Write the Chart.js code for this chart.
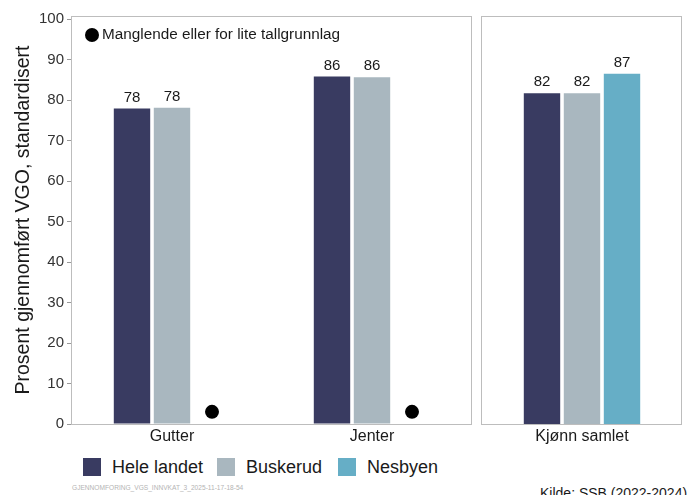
<!DOCTYPE html>
<html>
<head>
<meta charset="utf-8">
<script src="https://cdn.jsdelivr.net/npm/chart.js@4.4.1/dist/chart.umd.min.js"></script>
<style>
  body { margin: 0; background: #fff; font-family: "Liberation Sans", Arial, sans-serif; }
  #wrap { position: relative; width: 694px; height: 495px; overflow: hidden; }
  canvas { position: absolute; top: 0; }
  .leg { position: absolute; top: 456px; height: 22px; display: flex; align-items: center; font-size: 18px; color: #1a1a1a; }
  .leg span.sq { width: 18px; height: 18px; margin-right: 11px; display: inline-block; }
  #stamp { position: absolute; left: 72px; top: 484px; font-size: 6.6px; color: #b4b4b4; }
  #kilde { position: absolute; left: 540px; top: 485px; font-size: 14px; color: #1a1a1a; white-space: nowrap; }
</style>
</head>
<body>
<div id="wrap">
  <canvas id="left" width="476" height="450" style="left:0"></canvas>
  <canvas id="right" width="216" height="450" style="left:478px"></canvas>
  <div class="leg" style="left:83px"><span class="sq" style="background:#393b61"></span>Hele landet</div>
  <div class="leg" style="left:217px"><span class="sq" style="background:#a9b7bf"></span>Buskerud</div>
  <div class="leg" style="left:338px"><span class="sq" style="background:#66aec6"></span>Nesbyen</div>
  <div id="stamp">GJENNOMFORING_VGS_INNVKAT_3_2025-11-17-18-54</div>
  <div id="kilde">Kilde: SSB (2022-2024)</div>
</div>
<script>
// categories
const kjonnLabels = ["Gutter", "Jenter"];
const samletLabels = ["Kjønn samlet"];
const seriesNames = ["Hele landet", "Buskerud", "Nesbyen"];
const seriesColors = ["#393b61", "#a9b7bf", "#66aec6"];

// values per panel
const heleLandetKjonn = [77.9, 85.8];
const buskerudKjonn = [78.1, 85.6];
const nesbyenKjonn = [null, null];
const manglerKjonn = [true, true]; // missing / too few data
const heleLandetSamlet = [81.7];
const buskerudSamlet = [81.7];
const nesbyenSamlet = [86.5];

const yTicks = [0, 10, 20, 30, 40, 50, 60, 70, 80, 90, 100];
const yMax = 100.75;
const missingDotValue = 3;
const noteText = "Manglende eller for lite tallgrunnlag";

const FONT = "'Liberation Sans', Arial, sans-serif";

// panel border, value labels and missing-data dots
const panelPlugin = {
  id: "panel",
  afterDatasetsDraw(chart) {
    const c = chart.ctx, a = chart.chartArea;
    c.save();
    c.strokeStyle = "#bdbdbd";
    c.lineWidth = 1;
    c.strokeRect(Math.round(a.left) - 0.5, Math.round(a.top) + 0.5, Math.round(a.right - a.left), Math.round(a.bottom - a.top));
    c.font = "15px " + FONT;
    c.fillStyle = "#1a1a1a";
    c.textAlign = "center";
    c.textBaseline = "middle";
    chart.data.datasets.forEach((ds, di) => {
      const meta = chart.getDatasetMeta(di);
      meta.data.forEach((el, i) => {
        const v = ds.data[i];
        if (v != null) {
          c.fillText(Math.round(v), el.x, el.y - 11);
        } else if (ds.missing && ds.missing[i]) {
          const y = chart.scales.y.getPixelForValue(missingDotValue);
          c.beginPath();
          c.arc(el.x, y, 7, 0, Math.PI * 2);
          c.fillStyle = "#000";
          c.fill();
          c.fillStyle = "#1a1a1a";
        }
      });
    });
    if (chart.options.plugins.panel && chart.options.plugins.panel.note) {
      c.beginPath();
      c.arc(a.left + 20, a.top + 19, 7, 0, Math.PI * 2);
      c.fillStyle = "#000";
      c.fill();
      c.font = "15.3px " + FONT;
      c.textAlign = "left";
      c.fillStyle = "#1a1a1a";
      c.fillText(noteText, a.left + 30, a.top + 19);
    }
    c.restore();
  }
};

function makeDatasets(h, b, n, missing) {
  const vals = [h, b, n];
  return seriesNames.map((name, i) => ({
    label: name,
    data: vals[i],
    backgroundColor: seriesColors[i],
    missing: i === 2 ? missing : null,
    categoryPercentage: 0.6,
    barPercentage: 0.91
  }));
}

function makeOptions(showY, note) {
  return {
    responsive: false,
    animation: false,
    layout: { padding: showY ? { top: 16, right: 4, left: 0, bottom: 0 } : { top: 16, right: 12, left: 4, bottom: 0 } },
    plugins: { legend: { display: false }, tooltip: { enabled: false }, panel: { note: note } },
    scales: {
      x: {
        grid: { display: false, drawTicks: false },
        border: { display: false },
        ticks: { font: { size: 16, family: FONT }, color: "#1a1a1a", padding: 3 },
        afterFit(s) { s.height = 26; }
      },
      y: {
        display: showY,
        min: 0,
        max: yMax,
        afterBuildTicks(s) { s.ticks = yTicks.map(v => ({ value: v })); },
        ticks: { font: { size: 15, family: FONT }, color: "#333", padding: 3 },
        grid: { drawOnChartArea: false, drawTicks: true, tickLength: 5, color: "#999" },
        border: { display: false },
        title: {
          display: true,
          text: "Prosent gjennomført VGO, standardisert",
          font: { size: 19.5, family: FONT },
          color: "#1a1a1a",
          padding: { top: 12, bottom: 0 }
        },
        afterFit(s) { s.width = showY ? 72 : 0; }
      }
    }
  };
}

new Chart(document.getElementById("left"), {
  type: "bar",
  data: { labels: kjonnLabels, datasets: makeDatasets(heleLandetKjonn, buskerudKjonn, nesbyenKjonn, manglerKjonn) },
  options: makeOptions(true, true),
  plugins: [panelPlugin]
});

new Chart(document.getElementById("right"), {
  type: "bar",
  data: { labels: samletLabels, datasets: makeDatasets(heleLandetSamlet, buskerudSamlet, nesbyenSamlet, null) },
  options: makeOptions(false, false),
  plugins: [panelPlugin]
});
</script>
</body>
</html>
